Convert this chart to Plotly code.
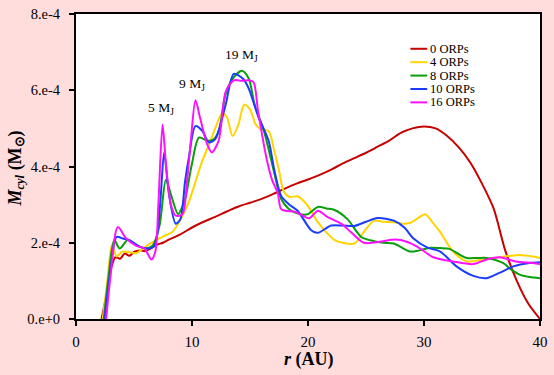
import plotly.graph_objects as go

# ---------------- data (M_cyl in units of 1e-4 Msun) ----------------
series_names = ["0 ORPs", "4 ORPs", "8 ORPs", "10 ORPs", "16 ORPs"]
series_colors = ["#c80000", "#ffd400", "#0a9e0a", "#1a3cff", "#ff10ff"]

r_0 = [2.2, 2.6, 3.0, 3.4, 3.8, 4.2, 4.6, 5.0, 5.5, 6.0, 6.5, 7.0, 7.5, 8.0, 9.0, 10.0,
       11.0, 12.0, 13.0, 14.0, 15.0, 16.0, 17.0, 18.0, 19.0, 20.0, 21.0, 22.0, 23.0, 24.0,
       25.0, 26.0, 27.0, 28.0, 29.0, 30.0, 31.0, 32.0, 33.0, 34.0, 35.0, 36.0, 37.0, 38.0,
       39.0, 40.0]
m_0 = [0.0, 0.6, 1.3, 1.62, 1.58, 1.72, 1.66, 1.76, 1.80, 1.78, 1.86, 1.95, 2.0, 2.08, 2.22,
       2.4, 2.55, 2.68, 2.82, 2.95, 3.05, 3.15, 3.28, 3.42, 3.55, 3.66, 3.78, 3.92, 4.08, 4.22,
       4.36, 4.52, 4.68, 4.88, 5.0, 5.05, 5.0, 4.8, 4.5, 4.1, 3.55, 2.9, 1.8, 1.0, 0.4, 0.0]

r_4 = [2.3, 2.7, 3.1, 3.5, 4.0, 4.6, 5.2, 6.0, 6.9, 7.75, 8.3, 9.0, 9.7, 10.3, 10.9, 11.5,
       12.0, 12.6, 13.0, 13.5, 14.0, 14.5, 15.0, 15.5, 16.0, 16.6, 17.1, 17.5, 17.9, 18.4,
       19.1, 19.6, 20.0, 20.85, 21.5, 22.3, 23.0, 24.0, 24.8, 25.7, 26.5, 27.4, 28.2, 28.8,
       29.5, 30.1, 30.7, 31.4, 32.5, 33.7, 35.1, 36.5, 37.5, 38.2, 39.4, 40.0]
m_4 = [0.0, 1.0, 1.94, 1.64, 1.77, 1.75, 1.73, 1.9, 2.07, 2.2, 2.28, 2.6, 3.05, 3.6, 4.16,
       4.6, 5.0, 5.4, 5.3, 4.8, 5.1, 5.62, 5.5, 5.1, 4.97, 4.93, 4.4, 3.9, 3.35, 3.2,
       3.22, 3.1, 2.96, 2.54, 2.3, 2.07, 2.0, 1.98, 2.28, 2.58, 2.55, 2.54, 2.5, 2.52,
       2.65, 2.75, 2.55, 2.28, 1.77, 1.51, 1.56, 1.62, 1.66, 1.68, 1.64, 1.6]

r_8 = [2.4, 2.8, 3.3, 3.76, 4.47, 5.2, 6.0, 6.6, 7.2, 7.75, 8.2, 8.8, 9.1, 9.46, 10.0, 10.6,
       11.3, 11.8, 12.3, 12.9, 13.5, 14.3, 14.9, 15.4, 16.2, 17.0, 17.7, 18.3, 18.9, 19.5,
       20.0, 20.85, 21.6, 22.3, 23.4, 24.6, 25.7, 26.5, 27.4, 28.8, 29.6, 30.5, 31.4, 32.2,
       33.0, 33.7, 34.6, 35.4, 36.8, 37.5, 38.2, 39.1, 40.0]
m_8 = [0.0, 1.1, 2.07, 1.85, 2.07, 1.94, 1.85, 1.92, 2.45, 3.65, 3.25, 2.75, 2.9, 3.22, 4.08,
       4.76, 4.68, 4.7, 4.93, 5.9, 6.3, 6.51, 6.3, 5.62, 4.93, 3.95, 3.14, 2.9, 2.79, 2.74,
       2.75, 2.94, 2.9, 2.86, 2.62, 2.15, 2.04, 2.0, 1.98, 1.77, 1.8, 1.87, 1.86, 1.84,
       1.7, 1.6, 1.6, 1.6, 1.47, 1.3, 1.17, 1.1, 1.07]

r_10 = [2.45, 2.9, 3.5, 4.05, 4.6, 5.47, 6.3, 6.7, 7.0, 7.3, 7.6, 8.0, 8.6, 9.0, 9.4, 9.74,
        10.3, 10.9, 11.45, 12.0, 12.9, 13.6, 14.4, 14.9, 15.7, 16.6, 17.1, 17.7, 18.4, 19.1,
        20.3, 20.85, 22.0, 23.0, 24.0, 25.0, 26.0, 27.4, 28.3, 29.1, 30.3, 31.4, 32.8, 34.25,
        35.4, 36.5, 37.7, 39.1, 40.0]
m_10 = [0.0, 1.1, 2.15, 2.11, 2.07, 1.9, 1.85, 1.9, 2.2, 3.2, 4.37, 3.3, 2.5, 2.62, 3.6, 4.25,
        5.06, 4.93, 4.63, 4.72, 5.62, 6.43, 6.3, 6.04, 5.32, 4.68, 3.9, 3.22, 3.0, 2.84,
        2.32, 2.26, 2.45, 2.45, 2.44, 2.55, 2.65, 2.58, 2.4, 2.11, 1.87, 1.77, 1.38, 1.13,
        1.07, 1.21, 1.38, 1.47, 1.49]

r_16 = [2.6, 3.0, 3.6, 4.33, 5.2, 5.9, 6.5, 6.84, 7.1, 7.46, 7.75, 8.2, 8.6, 9.17, 9.6, 9.9,
        10.3, 10.7, 11.3, 11.7, 12.3, 12.9, 13.6, 14.3, 14.9, 15.3, 15.7, 16.4, 16.9, 17.4,
        17.7, 18.9, 19.5, 20.1, 20.85, 21.7, 22.85, 23.7, 24.8, 26.3, 27.2, 28.0, 29.4, 30.8,
        32.5, 34.25, 35.4, 36.5, 37.9, 39.4, 40.0]
m_16 = [0.0, 1.2, 2.41, 2.11, 1.92, 1.85, 1.56, 1.77, 3.0, 5.1, 4.08, 2.97, 2.71, 2.75, 3.7,
        4.68, 5.74, 5.27, 4.59, 4.37, 4.68, 5.96, 6.26, 6.25, 6.26, 6.21, 5.44, 4.25, 3.65,
        3.3, 2.88, 2.81, 2.72, 2.64, 2.84, 2.67, 2.5, 2.28, 2.0, 2.03, 2.08, 2.07, 1.9, 1.62,
        1.51, 1.44, 1.56, 1.62, 1.51, 1.47, 1.44]

series_r = [r_0, r_4, r_8, r_10, r_16]
series_m = [m_0, m_4, m_8, m_10, m_16]
UNIT = 1e-4

x_tickvals = [0, 10, 20, 30, 40]
x_ticktext = ["0", "10", "20", "30", "40"]
y_tickvals = [0, 2e-4, 4e-4, 6e-4, 8e-4]
y_ticktext = ["0.e+0", "2.e-4", "4.e-4", "6.e-4", "8.e-4"]

peak_labels = ["5 M<sub>J</sub>", "9 M<sub>J</sub>", "19 M<sub>J</sub>"]

# ---------------- layout geometry ----------------
W, H = 554, 375
L, R, T, B = 76, 9, 6, 56
PW, PH = W - L - R, H - T - B
FONT = "Liberation Serif"


def px_x(px):
    return (px - L) / PW


def px_y(py):
    return (H - B - py) / PH


fig = go.Figure()
for name, color, rr, mm in zip(series_names, series_colors, series_r, series_m):
    fig.add_trace(go.Scatter(
        x=rr, y=[v * UNIT for v in mm], mode="lines", name=name,
        line=dict(color=color, width=2, shape="spline", smoothing=0.8),
        showlegend=False))

shapes = []
annotations = []
# peak labels
for txt, (cx, cy) in zip(peak_labels, [(162, 103), (193.5, 78.5), (243, 49)]):
    annotations.append(dict(text=txt, xref="paper", yref="paper", x=px_x(cx), y=px_y(cy),
                            xanchor="center", yanchor="middle", showarrow=False,
                            font=dict(family=FONT, size=13.5, color="black")))

# manual legend
for i, (name, color) in enumerate(zip(series_names, series_colors)):
    ly = 41.7 + 13.75 * i
    shapes.append(dict(type="line", xref="paper", yref="paper",
                       x0=px_x(414), x1=px_x(431), y0=px_y(ly), y1=px_y(ly),
                       line=dict(color=color, width=2)))
    annotations.append(dict(text=name, xref="paper", yref="paper", x=px_x(431.5), y=px_y(ly),
                            xanchor="left", yanchor="middle", showarrow=False,
                            font=dict(family=FONT, size=12.5, color="black")))

# axis titles
annotations.append(dict(text="<b><i>r</i> (AU)</b>", xref="paper", yref="paper",
                        x=px_x(312), y=px_y(372), xanchor="center", yanchor="bottom",
                        borderpad=0, showarrow=False,
                        font=dict(family=FONT, size=18, color="black")))
annotations.append(dict(text="<b><i>M</i><sub><i>cyl</i></sub> (M<sub>⊙</sub>)</b>",
                        xref="paper", yref="paper", textangle=-90,
                        x=px_x(16), y=px_y(165), xanchor="center", yanchor="middle",
                        borderpad=0, showarrow=False,
                        font=dict(family=FONT, size=18, color="black")))

fig.update_layout(
    width=W, height=H,
    margin=dict(l=L, r=R, t=T, b=B, pad=0),
    paper_bgcolor="#ffdddd", plot_bgcolor="white",
    shapes=shapes, annotations=annotations,
    showlegend=False,
    xaxis=dict(range=[0, 40], tickvals=x_tickvals, ticktext=x_ticktext,
               showgrid=False, zeroline=False, showline=True, linecolor="black",
               linewidth=2, mirror=True, ticks="outside", ticklen=5, tickwidth=1.5,
               tickcolor="black", ticklabelstandoff=3,
               tickfont=dict(family=FONT, size=15, color="black")),
    yaxis=dict(range=[0, 8e-4], tickvals=y_tickvals, ticktext=y_ticktext,
               showgrid=False, zeroline=False, showline=True, linecolor="black",
               linewidth=2, mirror=True, ticks="outside", ticklen=5, tickwidth=1.5,
               tickcolor="black", ticklabelstandoff=6,
               tickfont=dict(family=FONT, size=14.5, color="black")),
)

fig.write_html("out.html")
